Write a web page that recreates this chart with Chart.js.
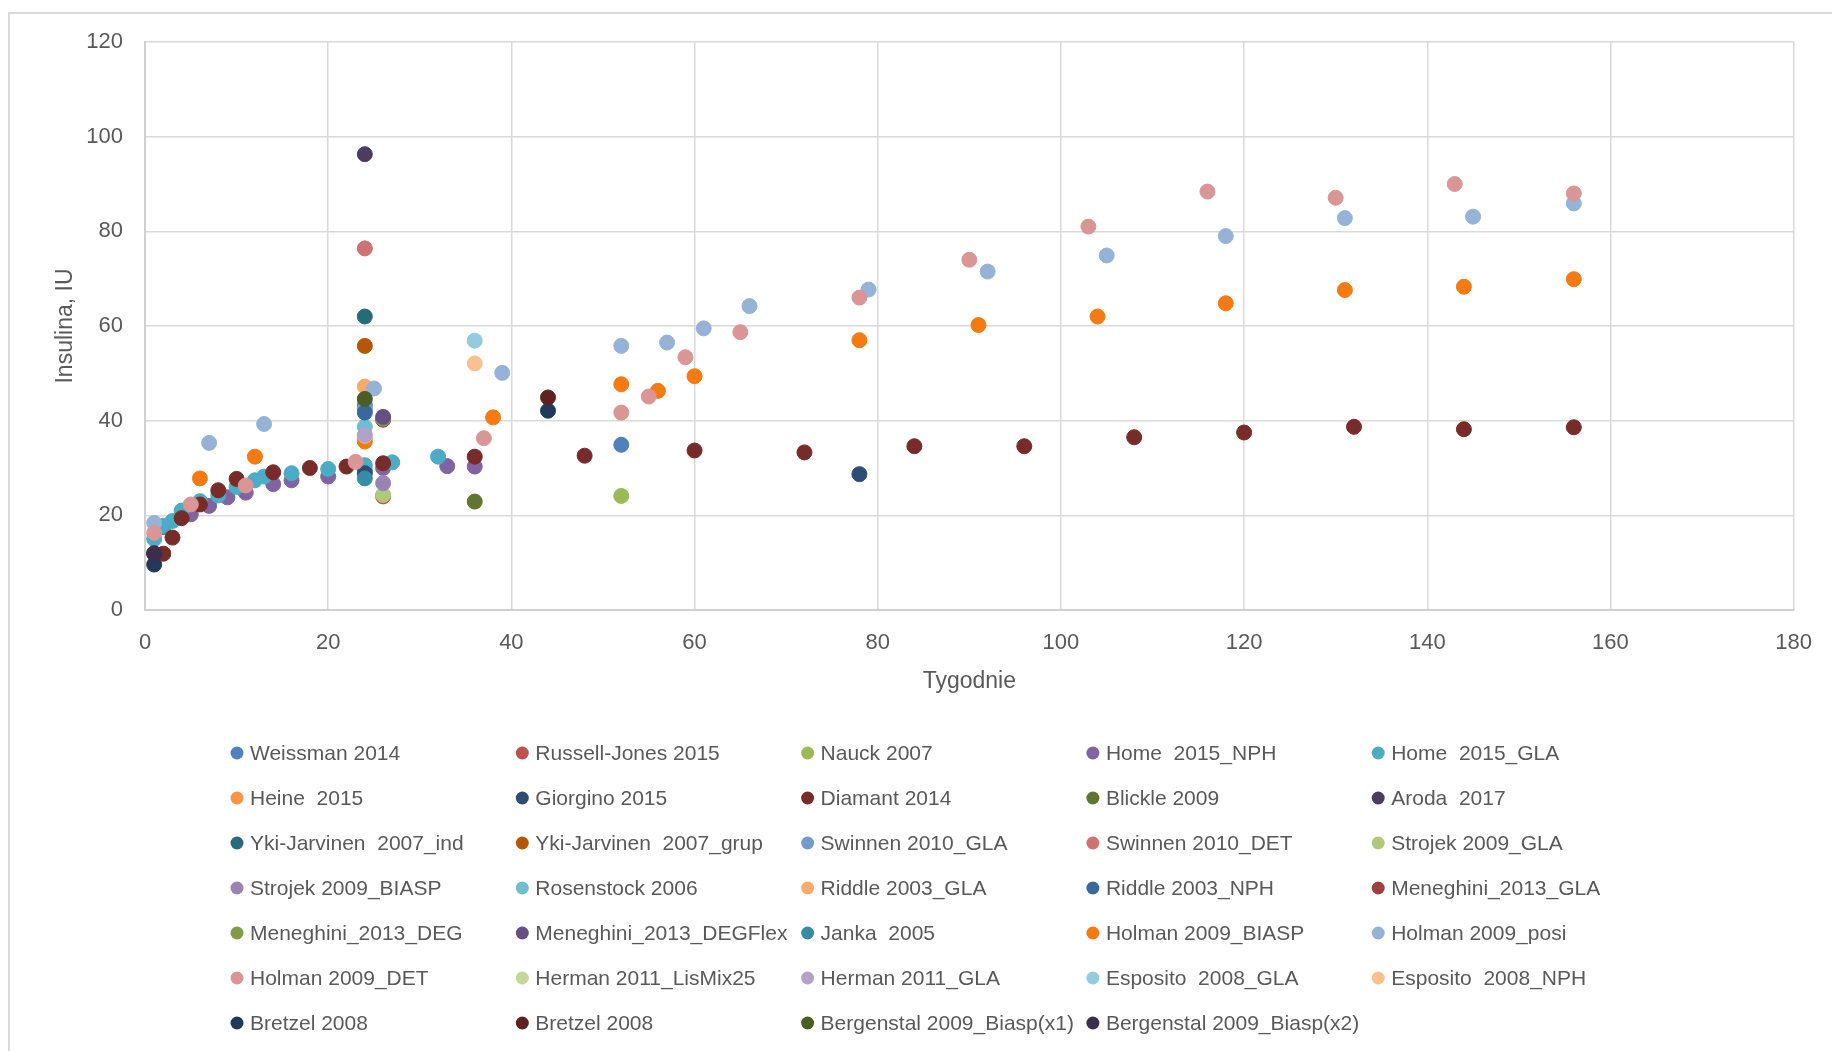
<!DOCTYPE html>
<html>
<head>
<meta charset="utf-8">
<script src="https://cdn.jsdelivr.net/npm/chart.js@4.4.1/dist/chart.umd.min.js"></script>
<style>
  html, body { margin: 0; padding: 0; background: #fff; overflow: hidden; }
  #frame { position: absolute; left: 8px; top: 12px; width: 1900px; height: 1100px; border: 2px solid #d9d9d9; }
  #wrap { position: absolute; left: 0; top: 0; width: 1832px; height: 1051px; }
</style>
</head>
<body>
<div id="frame"></div>
<div id="wrap"><canvas id="insulin" width="1832" height="1051"></canvas></div>
<script>
// series names (legend order)
var seriesNames = [
  'Weissman 2014', 'Russell-Jones 2015', 'Nauck 2007', 'Home  2015_NPH', 'Home  2015_GLA',
  'Heine  2015', 'Giorgino 2015', 'Diamant 2014', 'Blickle 2009', 'Aroda  2017',
  'Yki-Jarvinen  2007_ind', 'Yki-Jarvinen  2007_grup', 'Swinnen 2010_GLA', 'Swinnen 2010_DET', 'Strojek 2009_GLA',
  'Strojek 2009_BIASP', 'Rosenstock 2006', 'Riddle 2003_GLA', 'Riddle 2003_NPH', 'Meneghini_2013_GLA',
  'Meneghini_2013_DEG', 'Meneghini_2013_DEGFlex', 'Janka  2005', 'Holman 2009_BIASP', 'Holman 2009_posi',
  'Holman 2009_DET', 'Herman 2011_LisMix25', 'Herman 2011_GLA', 'Esposito  2008_GLA', 'Esposito  2008_NPH',
  'Bretzel 2008', 'Bretzel 2008', 'Bergenstal 2009_Biasp(x1)', 'Bergenstal 2009_Biasp(x2)'
];

// weeks (x) per series
var seriesWeeks = [
  [24, 52], [26], [52],
  [2, 5, 7, 9, 11, 14, 16, 20, 24, 26, 33, 36],
  [1, 2, 3, 4, 6, 8, 10, 12, 13, 16, 20, 24, 27, 32],
  [24], [24, 78],
  [2, 3, 4, 6, 8, 10, 14, 18, 22, 26, 36, 48, 60, 72, 84, 96, 108, 120, 132, 144, 156],
  [36], [24],
  [24], [24], [24], [24], [26],
  [26], [24], [24], [24], [26],
  [26], [26], [24],
  [6, 12, 24, 38, 52, 56, 60, 78, 91, 104, 118, 131, 144, 156],
  [1, 7, 13, 25, 39, 52, 57, 61, 66, 79, 92, 105, 118, 131, 145, 156],
  [1, 5, 11, 23, 37, 52, 55, 59, 65, 78, 90, 103, 116, 130, 143, 156],
  [24], [24], [36], [36],
  [1, 44], [1, 44], [24], [1]
];

// insulin dose (IU) per series
var seriesDoses = [
  [43.3, 34.9], [24.0], [24.1],
  [17.5, 20.2, 22.0, 23.8, 24.8, 26.6, 27.4, 28.2, 29.5, 30.0, 30.4, 30.3],
  [15.0, 17.8, 18.8, 21.0, 23.0, 24.2, 26.0, 27.4, 28.2, 28.9, 29.8, 30.6, 31.2, 32.4],
  [36.5], [28.9, 28.7],
  [11.9, 15.3, 19.4, 22.3, 25.3, 27.7, 29.1, 30.0, 30.3, 31.0, 32.4, 32.6, 33.7, 33.3, 34.6, 34.6, 36.5, 37.5, 38.7, 38.2, 38.6],
  [22.9], [96.3],
  [62.0], [55.8], [42.5], [76.4], [24.3],
  [26.8], [38.7], [47.2], [41.7], [40.2],
  [40.4], [40.8], [27.8],
  [27.8, 32.4, 35.6, 40.7, 47.7, 46.3, 49.4, 57.0, 60.2, 62.0, 64.8, 67.6, 68.3, 69.9],
  [18.4, 35.3, 39.3, 46.8, 50.1, 55.8, 56.5, 59.5, 64.2, 67.7, 71.5, 74.9, 79.0, 82.8, 83.1, 85.9],
  [16.3, 22.3, 26.3, 31.3, 36.3, 41.7, 45.1, 53.4, 58.7, 66.0, 74.0, 81.0, 88.4, 87.1, 90.0, 88.0],
  [36.8], [37.0], [56.9], [52.1],
  [9.6, 42.1], [12.0, 44.9], [44.6], [11.9]
];

var seriesColors = [
  '#4f81bd', '#c0504d', '#9bbb59', '#8064a2', '#4bacc6',
  '#f79646', '#2c4d75', '#772c2a', '#5f7530', '#4d3b62',
  '#276a7c', '#b65708', '#729aca', '#cd7371', '#afc97a',
  '#9983b5', '#6fbdd1', '#f9ab6b', '#3a679c', '#a0403e',
  '#7f9a48', '#664f83', '#358da5', '#f47a11', '#95b3d7',
  '#d99694', '#c3d69b', '#b3a2c7', '#93cddd', '#fac090',
  '#213a5c', '#5e2321', '#4a5e23', '#3b2e4c'
];

var xTicks = [0, 20, 40, 60, 80, 100, 120, 140, 160, 180];
var yTicks = [0, 20, 40, 60, 80, 100, 120];

var textColor = '#595959';
var fontFamily = '"Liberation Sans", Arial, sans-serif';

// legend drawn as a 5 column grid, like the spreadsheet
var gridLegend = {
  id: 'gridLegend',
  afterDraw: function(chart) {
    var ctx = chart.ctx;
    ctx.save();
    ctx.font = '21px ' + fontFamily;
    ctx.textBaseline = 'middle';
    ctx.textAlign = 'left';
    chart.data.datasets.forEach(function(ds, i) {
      var col = i % 5;
      var row = Math.floor(i / 5);
      var cx = 237 + col * 285.3;
      var cy = 753 + row * 45;
      ctx.fillStyle = ds.backgroundColor;
      ctx.beginPath();
      ctx.arc(cx, cy, 6.5, 0, Math.PI * 2);
      ctx.fill();
      ctx.fillStyle = textColor;
      ctx.fillText(ds.label, cx + 13, cy + 1);
    });
    ctx.restore();
  }
};

// later series sit on top, as in the spreadsheet
var datasets = seriesNames.map(function(name, i) {
  return {
    label: name,
    data: seriesWeeks[i].map(function(w, j) { return { x: w, y: seriesDoses[i][j] }; }),
    backgroundColor: seriesColors[i],
    borderColor: seriesColors[i],
    pointRadius: 7.5,
    pointBorderWidth: 1,
    pointStyle: 'circle',
    order: seriesNames.length - i
  };
});

var chartInsulin = new Chart(document.getElementById('insulin'), {
  type: 'scatter',
  data: { datasets: datasets },
  options: {
    responsive: false,
    animation: false,
    layout: { padding: { top: 42, right: 22, left: 0, bottom: 346 } },
    plugins: {
      legend: { display: false },
      tooltip: { enabled: false }
    },
    scales: {
      x: {
        type: 'linear',
        min: 0,
        max: 180,
        afterBuildTicks: function(scale) { scale.ticks = xTicks.map(function(v) { return { value: v }; }); },
        afterFit: function(scale) { scale.height = 95; },
        ticks: { color: textColor, padding: 20, font: { family: fontFamily, size: 22 } },
        grid: { color: '#d9d9d9', lineWidth: 1.5, drawTicks: false },
        border: { color: '#d0d0d0', width: 2 },
        title: {
          display: true,
          text: 'Tygodnie',
          color: textColor,
          font: { family: fontFamily, size: 23 },
          padding: { top: 0, bottom: 10 }
        }
      },
      y: {
        type: 'linear',
        min: 0,
        max: 120,
        afterBuildTicks: function(scale) { scale.ticks = yTicks.map(function(v) { return { value: v }; }); },
        afterFit: function(scale) { scale.width = 145; },
        ticks: { color: textColor, padding: 22, font: { family: fontFamily, size: 22 } },
        grid: { color: '#d9d9d9', lineWidth: 1.5, drawTicks: false },
        border: { color: '#d0d0d0', width: 2 },
        title: {
          display: true,
          text: 'Insulina, IU',
          color: textColor,
          font: { family: fontFamily, size: 23 },
          padding: { top: 52, bottom: 0 }
        }
      }
    }
  },
  plugins: [gridLegend]
});
</script>
</body>
</html>
